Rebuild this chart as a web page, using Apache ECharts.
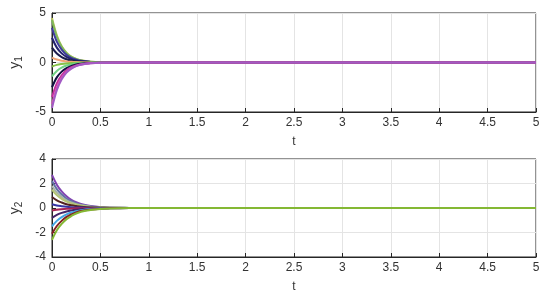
<!DOCTYPE html>
<html>
<head>
<meta charset="utf-8">
<script src="https://cdn.jsdelivr.net/npm/echarts@6/dist/echarts.min.js"></script>
<style>
  html, body { margin: 0; padding: 0; background: #fff; }
  #chart { width: 550px; height: 294px; }
</style>
</head>
<body>
<div id="chart"></div>
<script>
// time samples (t)
const t1 = [0, 0.05, 0.1, 0.15, 0.2, 0.25, 0.3, 0.4, 0.5, 1, 5];
const t2 = [0, 0.05, 0.1, 0.15, 0.2, 0.25, 0.3, 0.4, 0.5, 0.6, 0.8, 1, 5];

// y1 trajectories
const y1Curves = [
  [4.5, 2.75, 1.65, 1.0, 0.6, 0.37, 0.22, 0.08, 0.03, 0, 0],
  [4.3, 2.6, 1.58, 0.95, 0.58, 0.35, 0.21, 0.08, 0.03, 0, 0],
  [3.5, 2.1, 1.3, 0.78, 0.47, 0.29, 0.17, 0.06, 0.02, 0, 0],
  [2.5, 1.5, 0.92, 0.56, 0.34, 0.2, 0.12, 0.05, 0.02, 0, 0],
  [1.5, 0.9, 0.55, 0.33, 0.2, 0.12, 0.07, 0.03, 0.01, 0, 0],
  [0.5, 0.3, 0.18, 0.11, 0.07, 0.04, 0.02, 0.01, 0, 0, 0],
  [-0.4, -0.24, -0.15, -0.09, -0.05, -0.03, -0.02, -0.01, 0, 0, 0],
  [-1.4, -0.85, -0.52, -0.31, -0.19, -0.11, -0.07, -0.02, -0.01, 0, 0],
  [-2.5, -1.5, -0.92, -0.56, -0.34, -0.2, -0.12, -0.05, -0.02, 0, 0],
  [-3.5, -2.1, -1.3, -0.78, -0.47, -0.29, -0.17, -0.06, -0.02, 0, 0],
  [-4.2, -2.55, -1.55, -0.93, -0.56, -0.34, -0.2, -0.07, -0.03, 0, 0],
  [-4.6, -2.8, -1.7, -1.02, -0.62, -0.37, -0.23, -0.08, -0.03, 0, 0]
];
const y1Colors = ['#b9c45c', '#7fb85a', '#3f3a9c', '#23226e', '#1c1c4c', '#f1a474',
  '#86c246', '#72d084', '#111140', '#c2309e', '#d256b4', '#a25ac4'];

// y2 trajectories
const y2Curves = [
  [2.7, 1.9, 1.35, 0.95, 0.67, 0.47, 0.33, 0.16, 0.08, 0.04, 0.01, 0, 0],
  [2.2, 1.54, 1.1, 0.77, 0.55, 0.38, 0.27, 0.13, 0.07, 0.03, 0.01, 0, 0],
  [1.8, 1.26, 0.9, 0.63, 0.45, 0.31, 0.22, 0.11, 0.05, 0.03, 0.01, 0, 0],
  [1.5, 1.05, 0.75, 0.52, 0.37, 0.26, 0.18, 0.09, 0.04, 0.02, 0.01, 0, 0],
  [0.9, 0.63, 0.45, 0.31, 0.22, 0.16, 0.11, 0.05, 0.03, 0.01, 0, 0, 0],
  [0.3, 0.21, 0.15, 0.1, 0.07, 0.05, 0.04, 0.02, 0.01, 0, 0, 0, 0],
  [-0.2, -0.14, -0.1, -0.07, -0.05, -0.03, -0.02, -0.01, 0, 0, 0, 0, 0],
  [-0.8, -0.56, -0.4, -0.28, -0.2, -0.14, -0.1, -0.05, -0.02, -0.01, 0, 0, 0],
  [-1.5, -1.05, -0.75, -0.52, -0.37, -0.26, -0.18, -0.09, -0.04, -0.02, -0.01, 0, 0],
  [-2.1, -1.47, -1.05, -0.73, -0.52, -0.36, -0.25, -0.13, -0.06, -0.03, -0.01, 0, 0],
  [-2.6, -1.82, -1.3, -0.91, -0.65, -0.45, -0.31, -0.16, -0.08, -0.04, -0.01, 0, 0]
];
const y2Colors = ['#8244b2', '#6272a4', '#a8b4a4', '#b4c474', '#522222', '#3434a4',
  '#a82454', '#44246a', '#44a6e4', '#842222', '#84b834'];

const xTicks = [0, 0.5, 1, 1.5, 2, 2.5, 3, 3.5, 4, 4.5, 5];

const axisColor = '#262626';
const font = 'Liberation Sans, Arial, sans-serif';
const labelStyle = { color: '#333', fontSize: 12, fontFamily: font };

function xAxisFor(gridIndex) {
  return {
    gridIndex, type: 'value', min: xTicks[0], max: xTicks[xTicks.length - 1], interval: 0.5,
    name: 't', nameLocation: 'middle', nameGap: 24,
    nameTextStyle: { color: '#333', fontSize: 12, fontFamily: font },
    axisLine: { show: true, onZero: false, lineStyle: { color: axisColor, width: 1 } },
    axisTick: { inside: true, length: 4, lineStyle: { color: axisColor } },
    axisLabel: Object.assign({ margin: 5 }, labelStyle),
    splitLine: { show: true, lineStyle: { color: '#e4e4e4', width: 1 } }
  };
}

function yAxisFor(gridIndex, min, max, interval, sub) {
  return {
    gridIndex, type: 'value', min, max, interval,
    name: 'y{s|' + sub + '}', nameLocation: 'middle', nameGap: 28, nameRotate: 90,
    nameTextStyle: {
      color: '#333', fontSize: 14, fontFamily: font,
      rich: { s: { fontSize: 10, verticalAlign: 'bottom', padding: [7, 0, 0, 0], color: '#333', fontFamily: font } }
    },
    axisLine: { show: true, onZero: false, lineStyle: { color: axisColor, width: 1 } },
    axisTick: { inside: true, length: 4, lineStyle: { color: axisColor } },
    axisLabel: Object.assign({ margin: 6 }, labelStyle),
    splitLine: { show: true, lineStyle: { color: '#e4e4e4', width: 1 } }
  };
}

const series = [];
y1Curves.forEach((vals, i) => {
  series.push({
    type: 'line', xAxisIndex: 0, yAxisIndex: 0, smooth: 0.35, symbol: 'none',
    lineStyle: { width: 2, color: y1Colors[i] },
    data: t1.map((t, j) => [t, vals[j]])
  });
});
y2Curves.forEach((vals, i) => {
  series.push({
    type: 'line', xAxisIndex: 1, yAxisIndex: 1, smooth: 0.35, symbol: 'none',
    lineStyle: { width: 2, color: y2Colors[i] },
    data: t2.map((t, j) => [t, vals[j]])
  });
});

const chart = echarts.init(document.getElementById('chart'), null, { renderer: 'canvas' });
chart.setOption({
  animation: false,
  backgroundColor: '#fff',
  grid: [
    { left: 52, right: 14, top: 13, height: 99, show: true, borderColor: axisColor, borderWidth: 1,
      backgroundColor: 'transparent', outerBoundsMode: 'none' },
    { left: 52, right: 14, top: 159, height: 98, show: true, borderColor: axisColor, borderWidth: 1,
      backgroundColor: 'transparent', outerBoundsMode: 'none' }
  ],
  xAxis: [xAxisFor(0), xAxisFor(1)],
  yAxis: [yAxisFor(0, -5, 5, 5, '1'), yAxisFor(1, -4, 4, 2, '2')],
  series
});
</script>
</body>
</html>
